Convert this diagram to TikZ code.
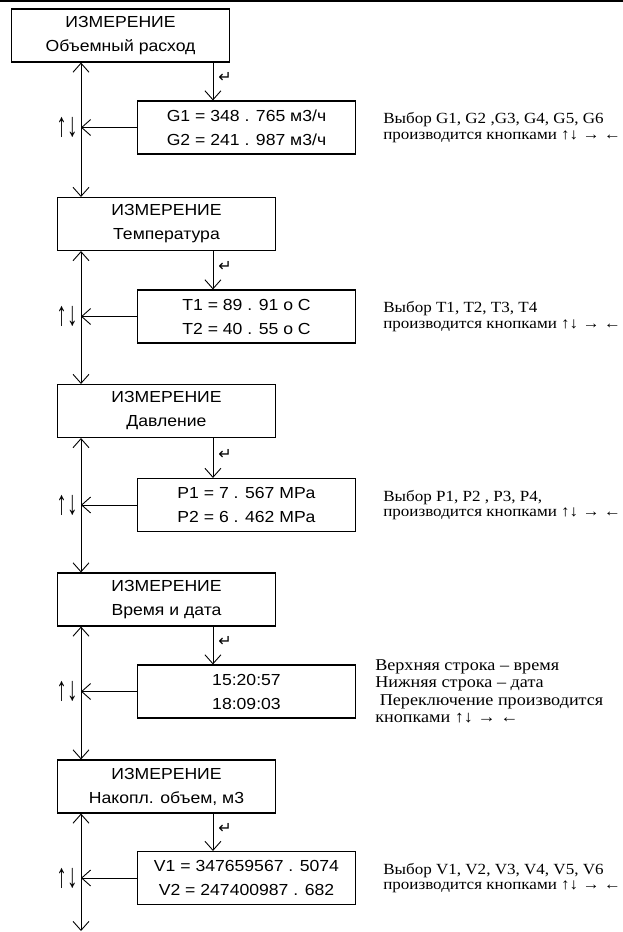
\documentclass[tikz,border=0pt]{standalone}
\usepackage{fontspec}
\setmainfont{Liberation Serif}
\setsansfont{Liberation Sans}
\newfontfamily\boxfont[FakeStretch=1.1]{Liberation Sans}
\newfontfamily\notefont[FakeStretch=1.1]{Liberation Serif}
\newfontfamily\keyfont[FakeStretch=0.62]{Liberation Serif}
\newfontfamily\symfont{DejaVu Sans}
\usetikzlibrary{positioning,arrows.meta}

\begin{document}
\begin{tikzpicture}[x=1pt,y=1pt,
    menubox/.style={draw, line width=1.1pt, minimum width=218pt, minimum height=53pt,
        inner sep=0pt, align=center, font=\boxfont\fontsize{16}{24}\selectfont},
    note/.style={inner sep=0pt, align=left, font=\notefont\fontsize{15.5}{15.5}\selectfont},
    bignote/.style={note, font=\notefont\fontsize{16.5}{17.5}\selectfont},
    arr/.style={line width=0.9pt, -{Straight Barb[length=9pt,width=16pt]}},
    darr/.style={line width=0.9pt, {Straight Barb[length=9pt,width=16pt]}-{Straight Barb[length=9pt,width=16pt]}},
    updn/.style={inner sep=0pt, anchor=east, font=\keyfont\fontsize{34}{34}\selectfont},
    ret/.style={inner sep=0pt, anchor=west, font=\symfont\fontsize{16}{16}\selectfont}]
    \useasboundingbox (0,0) rectangle (623,-932);
    \draw[line width=1.5pt] (0,-0.75) -- (623,-0.75);
    \coordinate (bus) at (81,0);

    % Menu boxes
    \node[menubox] (m1) at (120.5,-35.5) {ИЗМЕРЕНИЕ\\Объемный расход};
    \node[menubox] (m2) at (166.5,-224) {ИЗМЕРЕНИЕ\\Температура};
    \node[menubox] (m3) at (166.5,-411) {ИЗМЕРЕНИЕ\\Давление};
    \node[menubox] (m4) at (166.5,-599.5) {ИЗМЕРЕНИЕ\\Время и дата};
    \node[menubox] (m5) at (166.5,-786.5) {ИЗМЕРЕНИЕ\\Накопл. объем, м3};
    \coordinate (end) at (81,-931);

    % Value boxes
    \node[menubox] (v1) at (246.5,-127.5) {G1 = 348 . 765 м3/ч\\G2 = 241 . 987 м3/ч};
    \node[menubox] (v2) at (246.5,-316.5) {T1 = 89 . 91 o C\\T2 = 40 . 55 o C};
    \node[menubox] (v3) at (246.5,-505) {P1 = 7 . 567 MPa\\P2 = 6 . 462 MPa};
    \node[menubox] (v4) at (246.5,-691.5) {15:20:57\\18:09:03};
    \node[menubox] (v5) at (246.5,-878) {V1 = 347659567 . 5074\\V2 = 247400987 . 682};

    % Notes
    \node[note, anchor=west, right=27pt of v1] (n1) {Выбор G1, G2 ,G3, G4, G5, G6\\производится кнопками ↑↓ → ←};
    \node[note, anchor=west, right=27pt of v2] (n2) {Выбор T1, T2, T3, T4\\производится кнопками ↑↓ → ←};
    \node[note, anchor=west, right=27pt of v3] (n3) {Выбор P1, P2 , P3, P4,\\производится кнопками ↑↓ → ←};
    \node[bignote, anchor=west, right=19pt of v4] (n4) {Верхняя строка – время\\Нижняя строка – дата\\\ Переключение производится\\кнопками ↑↓ → ←};
    \node[note, anchor=west, right=27pt of v5] (n5) {Выбор V1, V2, V3, V4, V5, V6\\производится кнопками ↑↓ → ←};

    % Main line
    \draw[darr] (m1.south -| bus) -- (m2.north -| bus);
    \draw[darr] (m2.south -| bus) -- (m3.north -| bus);
    \draw[darr] (m3.south -| bus) -- (m4.north -| bus);
    \draw[darr] (m4.south -| bus) -- (m5.north -| bus);
    \draw[darr] (m5.south -| bus) -- (end);

    % Enter arrows
    \coordinate (e1) at ([xshift=76pt]v1.north west);
    \coordinate (e2) at ([xshift=76pt]v2.north west);
    \coordinate (e3) at ([xshift=76pt]v3.north west);
    \coordinate (e4) at ([xshift=76pt]v4.north west);
    \coordinate (e5) at ([xshift=76pt]v5.north west);
    \draw[arr] (e1 |- m1.south) -- (e1) node[ret, pos=0.4, xshift=5pt] (r1) {↵};
    \draw[arr] (e2 |- m2.south) -- (e2) node[ret, pos=0.4, xshift=5pt] (r2) {↵};
    \draw[arr] (e3 |- m3.south) -- (e3) node[ret, pos=0.4, xshift=5pt] (r3) {↵};
    \draw[arr] (e4 |- m4.south) -- (e4) node[ret, pos=0.4, xshift=5pt] (r4) {↵};
    \draw[arr] (e5 |- m5.south) -- (e5) node[ret, pos=0.4, xshift=5pt] (r5) {↵};

    % Back arrows
    \draw[arr] (v1.west) -- (v1.west -| bus) node[updn, xshift=-3pt] (k1) {↑↓};
    \draw[arr] (v2.west) -- (v2.west -| bus) node[updn, xshift=-3pt] (k2) {↑↓};
    \draw[arr] (v3.west) -- (v3.west -| bus) node[updn, xshift=-3pt] (k3) {↑↓};
    \draw[arr] (v4.west) -- (v4.west -| bus) node[updn, xshift=-3pt] (k4) {↑↓};
    \draw[arr] (v5.west) -- (v5.west -| bus) node[updn, xshift=-3pt] (k5) {↑↓};
\end{tikzpicture}
\end{document}
